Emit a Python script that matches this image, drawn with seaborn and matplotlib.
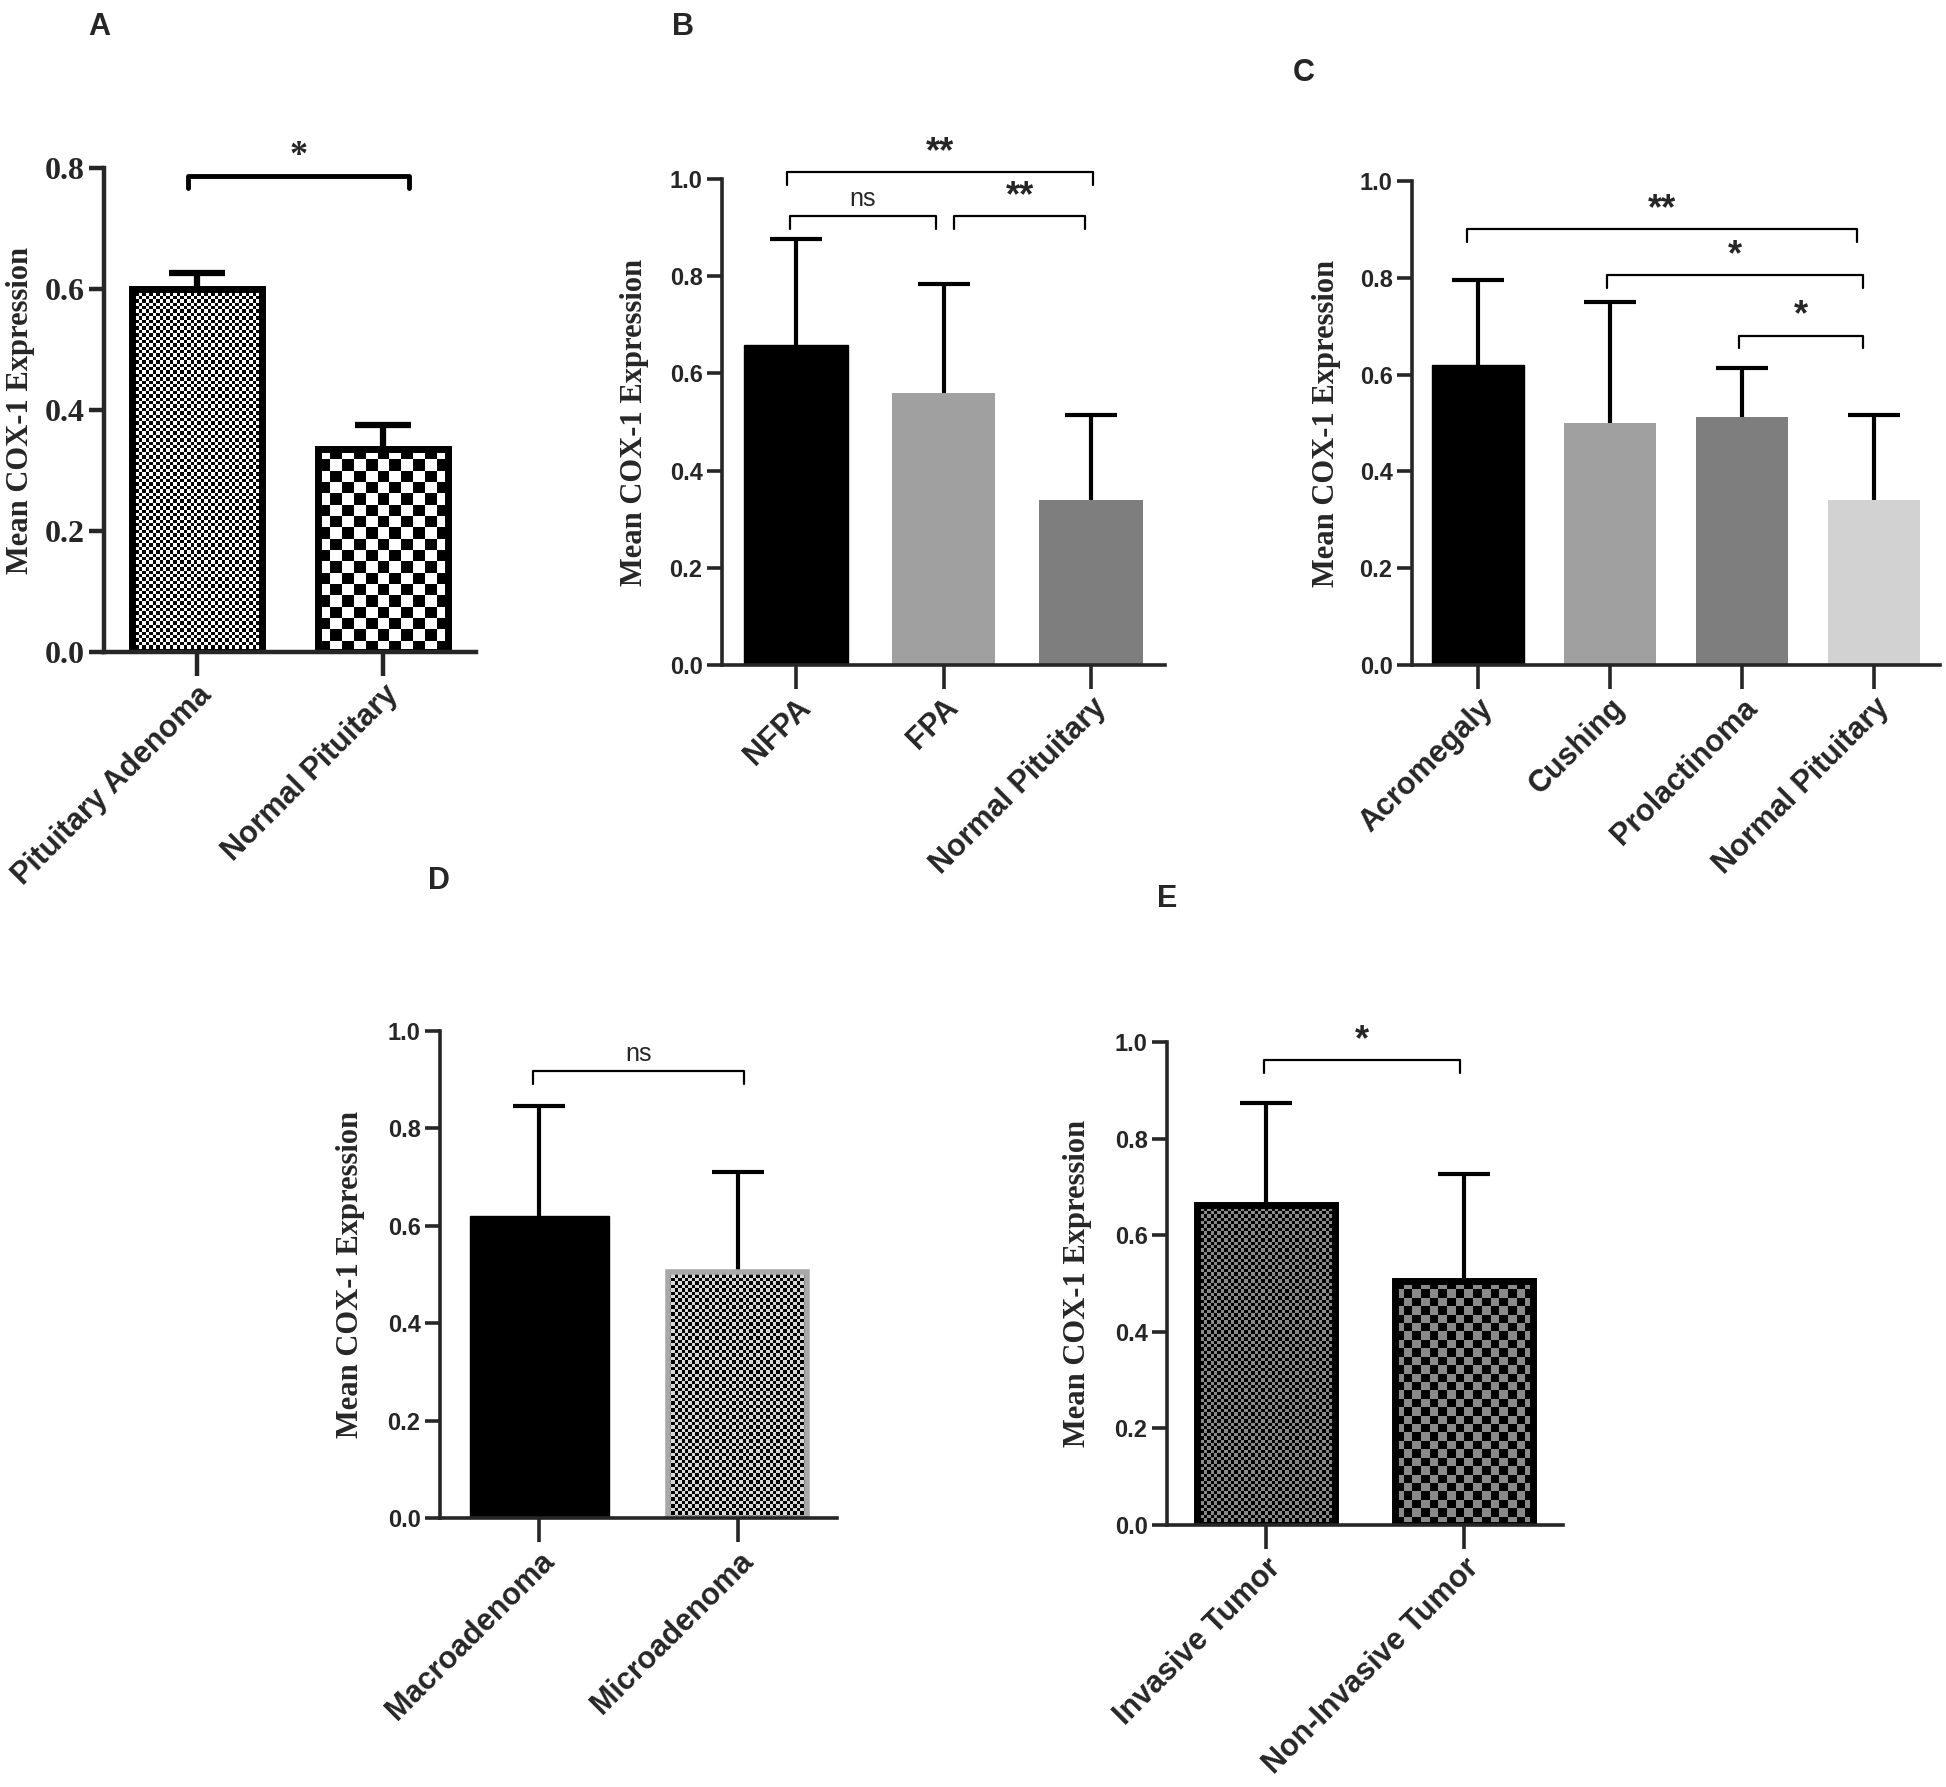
import numpy as np
import pandas as pd
import matplotlib
matplotlib.use("Agg")
import matplotlib.pyplot as plt
from matplotlib.colors import ListedColormap
from matplotlib.ticker import FormatStrFormatter
import seaborn as sns

# ---- data ----
a_groups = ["Pituitary Adenoma", "Normal Pituitary"]
a_mean = [0.600, 0.336]
a_err = [0.027, 0.040]

b_groups = ["NFPA", "FPA", "Normal Pituitary"]
b_mean = [0.659, 0.559, 0.339]
b_err = [0.218, 0.224, 0.175]

c_groups = ["Acromegaly", "Cushing", "Prolactinoma", "Normal Pituitary"]
c_mean = [0.619, 0.501, 0.512, 0.340]
c_err = [0.177, 0.250, 0.102, 0.176]

d_groups = ["Macroadenoma", "Microadenoma"]
d_mean = [0.621, 0.506]
d_err = [0.226, 0.205]

e_groups = ["Invasive Tumor", "Non-Invasive Tumor"]
e_mean = [0.663, 0.505]
e_err = [0.210, 0.222]

# significance brackets: (group i, group j, level, label)
a_sig = [(0, 1, 0.787, "*")]
b_sig = [(0, 2, 1.014, "**"), (0, 1, 0.923, "ns"), (1, 2, 0.923, "**")]
c_sig = [(0, 3, 0.900, "**"), (1, 3, 0.805, "*"), (2, 3, 0.680, "*")]
d_sig = [(0, 1, 0.917, "ns")]
e_sig = [(0, 1, 0.962, "*")]

sns.set_style("ticks")
plt.rcParams["font.family"] = ["Liberation Sans", "DejaVu Sans"]

SERIF = "Liberation Serif"
SANS = "Liberation Sans"

fig = plt.figure(figsize=(19.46, 17.87), dpi=100)


def checker(ax, bar, cell, c1, c2):
    # checkerboard fill clipped to the bar
    x0, y0 = bar.get_x(), bar.get_y()
    w, h = bar.get_width(), bar.get_height()
    p0 = ax.transData.transform((x0, y0))
    p1 = ax.transData.transform((x0 + w, y0 + h))
    nx = max(1, int(round(abs(p1[0] - p0[0]) / cell)))
    ny = max(1, int(round(abs(p1[1] - p0[1]) / cell)))
    grid = np.add.outer(np.arange(ny), np.arange(nx)) % 2
    z = bar.get_zorder()
    im = ax.imshow(grid, extent=(x0, x0 + w, y0, y0 + h), origin="lower",
                   cmap=ListedColormap([c1, c2]), interpolation="nearest",
                   aspect="auto", zorder=z + 0.1)
    im.set_clip_path(bar)
    bar.set_facecolor("none")
    bar.set_zorder(z + 0.2)


def panel(rect, groups, means, errs, colors, edges, lws, top, sig,
          letter, letter_xy, ylab_x, serif_ticks=False, cap=19, elw=3.0,
          spine_w=2.6, bw=0.70, sig_lw=1.6, inset=None, patterns=None):
    ax = fig.add_axes(rect)
    n = len(groups)
    df = pd.DataFrame({"group": groups, "mean": means})
    sns.barplot(data=df, x="group", y="mean", hue="group", palette=colors,
                legend=False, width=bw, saturation=1, ax=ax, zorder=2)
    for bar, ec, lw in zip(ax.patches, edges, lws):
        bar.set_edgecolor(ec)
        bar.set_linewidth(lw)
    eb = ax.errorbar(np.arange(n), means, yerr=[np.zeros(n), errs], fmt="none",
                     ecolor="black", elinewidth=elw, capsize=cap, capthick=elw,
                     zorder=1)
    eb[1][0].set_visible(False)

    ax.set_xlim(-0.5, n - 0.5)
    ax.set_ylim(0, top)
    ax.set_yticks(np.arange(0, top + 0.001, 0.2))
    ax.yaxis.set_major_formatter(FormatStrFormatter("%.1f"))
    for s in ["top", "right"]:
        ax.spines[s].set_visible(False)
    for s in ["left", "bottom"]:
        ax.spines[s].set_linewidth(spine_w)
    ax.tick_params(axis="y", length=11, width=spine_w, pad=3)
    ax.tick_params(axis="x", length=17, width=spine_w, pad=3)
    ax.set_xlabel("")
    ax.set_xticks(np.arange(n))
    ax.set_xticklabels(groups, rotation=45, ha="right", rotation_mode="anchor",
                       fontsize=22, fontweight="bold", family=SANS)
    if serif_ticks:
        for t in ax.get_yticklabels():
            t.set_fontfamily(SERIF)
            t.set_fontsize(23)
            t.set_fontweight("bold")
    else:
        for t in ax.get_yticklabels():
            t.set_fontfamily(SANS)
            t.set_fontsize(17)
            t.set_fontweight("bold")
    ax.set_ylabel("Mean COX-1 Expression", family=SERIF, fontsize=22,
                  fontweight="bold")
    ax.yaxis.set_label_coords(ylab_x, 0.5)

    if patterns:
        for k, (cell, c1, c2) in patterns.items():
            checker(ax, ax.patches[k], cell, c1, c2)
        ax.set_xlim(-0.5, n - 0.5)
        ax.set_ylim(0, top)

    drop = 0.026 * top
    for idx, (i, j, lev, lab) in enumerate(sig):
        li, lj = inset[idx] if inset else (0, 0)
        x1, x2 = i + li, j + lj
        ax.plot([x1, x1, x2, x2], [lev - drop, lev, lev, lev - drop],
                color="black", lw=sig_lw, clip_on=False, zorder=3)
        if lab == "ns":
            ax.text((x1 + x2) / 2, lev + 0.012 * top, lab, ha="center",
                    va="bottom", fontsize=18, family=SANS)
        else:
            ax.text((x1 + x2) / 2, lev + 0.005 * top, lab, ha="center",
                    va="bottom", fontsize=26, fontweight="bold",
                    family=SERIF if serif_ticks else SANS)
    fig.text(letter_xy[0] / 1946, 1 - letter_xy[1] / 1787, letter,
             fontsize=22, fontweight="bold", family=SANS, ha="left", va="top")
    return ax


# A
panel([104 / 1946, 1 - 652 / 1787, 372 / 1946, 484 / 1787],
      a_groups, a_mean, a_err, ["white", "white"], ["black", "black"], [5, 5],
      0.8, a_sig, "A", (88, 12), -0.185, serif_ticks=True, cap=20, elw=4.5,
      spine_w=3.2, sig_lw=3.5, inset=[(-0.05, 0.14)],
      patterns={0: (3.4, "black", "white"), 1: (11.5, "black", "white")})

# B
panel([722 / 1946, 1 - 665 / 1787, 443 / 1946, 486 / 1787],
      b_groups, b_mean, b_err, ["black", "#a0a0a0", "#7e7e7e"],
      ["black", "#a0a0a0", "#7e7e7e"], [1, 0, 0],
      1.0, b_sig, "B", (672, 12), -0.165,
      inset=[(-0.06, 0.01), (-0.04, -0.05), (0.07, -0.04)])

# C
panel([1412 / 1946, 1 - 665 / 1787, 528 / 1946, 484 / 1787],
      c_groups, c_mean, c_err, ["black", "#a0a0a0", "#7e7e7e", "#d2d2d2"],
      ["black", "#a0a0a0", "#7e7e7e", "#d2d2d2"], [1, 0, 0, 0],
      1.0, c_sig, "C", (1293, 58), -0.135,
      inset=[(-0.08, -0.13), (-0.02, -0.08), (-0.02, -0.08)])

# D
panel([440 / 1946, 1 - 1518 / 1787, 397 / 1946, 487 / 1787],
      d_groups, d_mean, d_err, ["black", "white"], ["black", "#a8a8a8"], [1, 4],
      1.0, d_sig, "D", (428, 866), -0.19,
      inset=[(-0.03, 0.03)],
      patterns={1: (3.4, "black", "#d8d8d8")})

# E
panel([1167 / 1946, 1 - 1525 / 1787, 396 / 1946, 483 / 1787],
      e_groups, e_mean, e_err, ["white", "white"], ["black", "black"], [5, 5],
      1.0, e_sig, "E", (1157, 884), -0.19,
      inset=[(-0.01, -0.02)],
      patterns={0: (3.4, "black", "#8a8a8a"), 1: (8.5, "black", "#8a8a8a")})

fig.savefig("out.png", dpi=100)
